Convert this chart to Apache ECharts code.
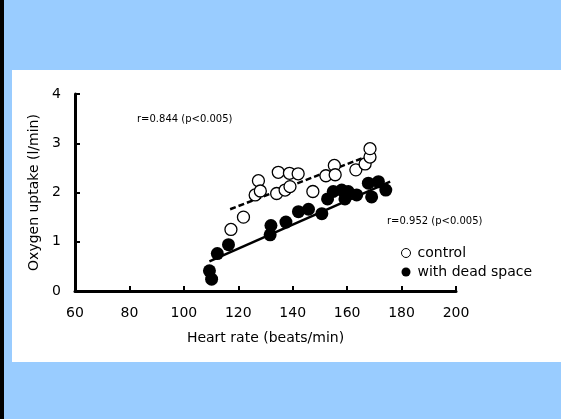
<!DOCTYPE html>
<html>
<head>
<meta charset="utf-8">
<script src="https://cdn.jsdelivr.net/npm/echarts@6/dist/echarts.min.js"></script>
<style>
  html, body { margin: 0; padding: 0; }
  #main { width: 561px; height: 419px; }
</style>
</head>
<body>
<div id="main"></div>
<script>
// control (open circles): [heart rate, O2 uptake]
var controlPts = [
    [117.3, 1.25], [121.9, 1.50], [126.2, 1.95], [127.4, 2.24], [128.1, 2.03],
    [134.1, 1.98], [134.7, 2.41], [137.2, 2.05], [139.0, 2.12], [138.8, 2.39],
    [142.0, 2.38], [147.4, 2.02], [152.2, 2.34], [155.3, 2.55], [155.6, 2.36],
    [163.2, 2.46], [166.6, 2.58], [168.4, 2.72], [168.4, 2.89]
];
// with dead space (filled circles)
var deadPts = [
    [109.4, 0.41], [110.2, 0.24], [112.3, 0.76], [116.4, 0.94], [131.7, 1.14],
    [132.0, 1.33], [137.5, 1.40], [142.1, 1.61], [145.8, 1.66], [150.7, 1.57],
    [152.8, 1.87], [154.9, 2.02], [158.0, 2.05], [160.4, 2.02], [159.2, 1.87],
    [163.5, 1.95], [167.8, 2.19], [169.0, 1.91], [171.5, 2.22], [174.2, 2.05]
];
// regression lines
var controlFit = [[117.0, 1.66], [169.5, 2.78]];
var deadFit = [[109.4, 0.60], [175.8, 2.22]];

var xTicks = [60, 80, 100, 120, 140, 160, 180, 200];
var yTicks = [0, 1, 2, 3, 4];

var font = 'DejaVu Sans';
var myChart = echarts.init(document.getElementById('main'));

myChart.setOption({
    animation: false,
    backgroundColor: '#99ccff',
    textStyle: { fontFamily: font },
    graphic: [
        { type: 'rect', z: -10, shape: { x: 0, y: 0, width: 4, height: 419 }, style: { fill: '#000' } },
        { type: 'rect', z: -10, shape: { x: 12, y: 70, width: 549, height: 292 }, style: { fill: '#fff' } },
        { type: 'text', left: 137, top: 114, style: { text: 'r=0.844 (p<0.005)', fontSize: 10, fontFamily: font, fill: '#000' } },
        { type: 'text', left: 387, top: 216, style: { text: 'r=0.952 (p<0.005)', fontSize: 10, fontFamily: font, fill: '#000' } }
    ],
    grid: { left: 75, right: 105, top: 94, bottom: 128 },
    legend: {
        data: ['control', 'with dead space'],
        orient: 'vertical',
        left: 396,
        top: 241,
        itemWidth: 9,
        itemHeight: 9,
        itemGap: 5,
        icon: 'circle',
        itemStyle: { borderWidth: 1 },
        textStyle: { fontSize: 14, fontFamily: font, color: '#000', padding: [0, 0, 0, 2] }
    },
    xAxis: {
        type: 'value',
        min: xTicks[0],
        max: xTicks[xTicks.length - 1],
        interval: 20,
        name: 'Heart rate (beats/min)',
        nameLocation: 'middle',
        nameGap: 40,
        nameTextStyle: { fontSize: 14, color: '#000', fontFamily: font },
        axisLine: { onZero: false, lineStyle: { color: '#000', width: 3 } },
        axisTick: { inside: true, length: 5, lineStyle: { color: '#000', width: 2 } },
        axisLabel: { fontSize: 14, color: '#000', margin: 15 },
        splitLine: { show: false }
    },
    yAxis: {
        type: 'value',
        min: yTicks[0],
        max: yTicks[yTicks.length - 1],
        interval: 1,
        name: 'Oxygen uptake (l/min)',
        nameLocation: 'middle',
        nameGap: 34,
        nameTextStyle: { fontSize: 14, color: '#000', fontFamily: font },
        axisLine: { show: true, lineStyle: { color: '#000', width: 3 } },
        axisTick: { show: true, inside: true, length: 5, lineStyle: { color: '#000', width: 2 } },
        axisLabel: { fontSize: 14, color: '#000', margin: 14 },
        splitLine: { show: false }
    },
    series: [
        {
            name: 'control fit',
            type: 'line',
            data: controlFit,
            symbol: 'none',
            lineStyle: { color: '#000', width: 2.5, type: [6, 3] },
            z: 1
        },
        {
            name: 'dead fit',
            type: 'line',
            data: deadFit,
            symbol: 'none',
            lineStyle: { color: '#000', width: 2.5 },
            z: 1
        },
        {
            name: 'control',
            type: 'scatter',
            data: controlPts,
            symbolSize: 12,
            itemStyle: { color: '#fff', borderColor: '#000', borderWidth: 1.3, opacity: 1 },
            z: 3
        },
        {
            name: 'with dead space',
            type: 'scatter',
            data: deadPts,
            symbolSize: 13,
            itemStyle: { color: '#000', opacity: 1 },
            z: 4
        }
    ]
});
</script>
</body>
</html>
